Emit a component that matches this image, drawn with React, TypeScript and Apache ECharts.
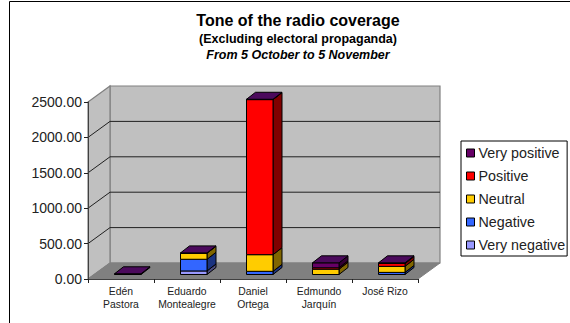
import React, { useEffect, useRef } from "react";
import * as echarts from "echarts";

const candidates = ["Edén\nPastora", "Eduardo\nMontealegre", "Daniel\nOrtega", "Edmundo\nJarquín", "José Rizo"];
const veryNegative = [0, 50, 0, 0, 0];
const negative = [0, 165, 45, 0, 30];
const neutral = [0, 85, 235, 75, 85];
const positive = [0, 0, 2190, 20, 40];
const veryPositive = [10, 5, 5, 70, 10];
const yTicks = [0, 500, 1000, 1500, 2000, 2500];

const stackOrder = [
  { name: "Very negative", values: veryNegative, color: "#9999ff", side: "#4d4d80" },
  { name: "Negative", values: negative, color: "#3366ff", side: "#1a3380" },
  { name: "Neutral", values: neutral, color: "#ffcc00", side: "#806600" },
  { name: "Positive", values: positive, color: "#ff0000", side: "#800000" },
  { name: "Very positive", values: veryPositive, color: "#660066", side: "#330033" },
];
const legendOrder = ["Very positive", "Positive", "Neutral", "Negative", "Very negative"];

// Oblique offset between the front plane and the back wall of the 3D box.
const DEPTH_X = 22;
const DEPTH_Y = -16;
const BAR_WIDTH = 26.5;
const BAR_DX = 6.75;
const BAR_DY = -4.5;
const BAR_DEPTH_X = 9;
const BAR_DEPTH_Y = -7;
const TOP_FACE = "#4b0a5c";

const poly = (points: number[][], fill: string, stroke: string, lineWidth = 1) => ({
  type: "polygon",
  shape: { points },
  style: { fill, stroke, lineWidth },
});

const renderBox = (_: any, api: any) => {
  const band = api.size([1, 0])[0];
  const left = api.coord([0, 0])[0] - band / 2;
  const right = api.coord([candidates.length - 1, 0])[0] + band / 2;
  const y0 = api.coord([0, 0])[1];
  const yMax = api.coord([0, yTicks[yTicks.length - 1]])[1];
  const children: any[] = [
    poly([[left + DEPTH_X, yMax + DEPTH_Y], [right + DEPTH_X, yMax + DEPTH_Y], [right + DEPTH_X, y0 + DEPTH_Y], [left + DEPTH_X, y0 + DEPTH_Y]], "#c0c0c0", "#808080", 1.2),
    poly([[left, yMax], [left + DEPTH_X, yMax + DEPTH_Y], [left + DEPTH_X, y0 + DEPTH_Y], [left, y0]], "#c0c0c0", "#808080", 1.2),
    poly([[left, y0], [left + DEPTH_X, y0 + DEPTH_Y], [right + DEPTH_X, y0 + DEPTH_Y], [right, y0]], "#808080", "#808080", 1),
  ];
  yTicks.slice(1, -1).forEach((tick) => {
    const y = api.coord([0, tick])[1];
    children.push({
      type: "polyline",
      shape: { points: [[left, y], [left + DEPTH_X, y + DEPTH_Y], [right + DEPTH_X, y + DEPTH_Y]] },
      style: { fill: "none", stroke: "#202020", lineWidth: 1 },
    });
  });
  return { type: "group", children };
};

const renderSegment = (layer: number) => (_: any, api: any) => {
  const i = api.value(0);
  const s = stackOrder[layer];
  const below = stackOrder.slice(0, layer).reduce((sum, o) => sum + o.values[i], 0);
  const value = s.values[i];
  if (!value) return null;
  const bottom = api.coord([i, below]);
  const top = api.coord([i, below + value]);
  const x0 = bottom[0] + BAR_DX - BAR_WIDTH / 2;
  const x1 = x0 + BAR_WIDTH;
  const yb = bottom[1] + BAR_DY;
  const yt = top[1] + BAR_DY;
  const children: any[] = [
    poly([[x1, yb], [x1 + BAR_DEPTH_X, yb + BAR_DEPTH_Y], [x1 + BAR_DEPTH_X, yt + BAR_DEPTH_Y], [x1, yt]], s.side, "#000"),
    poly([[x0, yb], [x1, yb], [x1, yt], [x0, yt]], s.color, "#000"),
  ];
  if (layer === stackOrder.length - 1) {
    children.push(poly([[x0, yt], [x0 + BAR_DEPTH_X, yt + BAR_DEPTH_Y], [x1 + BAR_DEPTH_X, yt + BAR_DEPTH_Y], [x1, yt]], TOP_FACE, "#000"));
  }
  return { type: "group", children };
};

const titleLine = (text: string, top: number, fontSize: number, fontStyle: string) => ({
  text,
  left: 293,
  top,
  textAlign: "center",
  textStyle: { fontFamily: "Liberation Sans", fontSize, fontWeight: "bold", fontStyle, color: "#000" },
});

export default function App() {
  const ref = useRef<HTMLDivElement>(null);
  useEffect(() => {
    const chart = echarts.init(ref.current!, undefined, { renderer: "svg" });
    chart.setOption({
      animation: false,
      backgroundColor: "#fff",
      textStyle: { fontFamily: "Liberation Sans" },
      title: [
        titleLine("Tone of the radio coverage", 7, 16, "normal"),
        titleLine("(Excluding electoral propaganda)", 27, 12.5, "normal"),
        titleLine("From 5 October to 5 November", 43, 12.5, "italic"),
      ],
      grid: { left: 88, right: 152, top: 102, bottom: 44 },
      xAxis: {
        type: "category",
        data: candidates,
        z: 5,
        axisLine: { lineStyle: { color: "#404040", width: 1 } },
        axisTick: { show: true, length: 4, lineStyle: { color: "#202020" } },
        axisLabel: { fontSize: 10.4, lineHeight: 13, margin: 6, color: "#222", interval: 0 },
        splitLine: { show: false },
      },
      yAxis: {
        type: "value",
        min: 0,
        max: 2500,
        interval: 500,
        z: 5,
        axisLine: { show: true, lineStyle: { color: "#404040", width: 1 } },
        axisTick: { show: true, length: 4, lineStyle: { color: "#202020" } },
        axisLabel: { fontSize: 14, margin: 6, color: "#222", formatter: (v: number) => v.toFixed(2) },
        splitLine: { show: false },
      },
      legend: {
        left: 461,
        top: 141,
        orient: "vertical",
        data: legendOrder,
        icon: "rect",
        itemWidth: 8,
        itemHeight: 8,
        itemGap: 9,
        padding: [5, 2, 4, 5],
        borderColor: "#000",
        borderWidth: 1,
        backgroundColor: "#fff",
        selectedMode: false,
        itemStyle: { borderColor: "#000", borderWidth: 1 },
        textStyle: { fontSize: 14.3, color: "#222", padding: [0, 0, 0, -1] },
      },
      graphic: [
        { type: "line", shape: { x1: 9.5, y1: 1.5, x2: 570, y2: 1.5 }, style: { stroke: "#000", lineWidth: 1 } },
        { type: "line", shape: { x1: 9.5, y1: 1.5, x2: 9.5, y2: 323 }, style: { stroke: "#000", lineWidth: 1 } },
      ],
      series: [
        {
          type: "custom",
          name: "box",
          silent: true,
          clip: false,
          renderItem: renderBox,
          data: [[0, 0]],
          z: 1,
        },
        ...stackOrder.map((s, layer) => ({
          type: "custom",
          name: s.name,
          silent: true,
          clip: false,
          renderItem: renderSegment(layer),
          itemStyle: { color: s.color },
          data: s.values.map((v, i) => [i, v]),
          z: 2,
        })),
      ],
    });
    return () => chart.dispose();
  }, []);
  return <div ref={ref} style={{ position: "fixed", left: 0, top: 0, width: 570, height: 323 }} />;
}
